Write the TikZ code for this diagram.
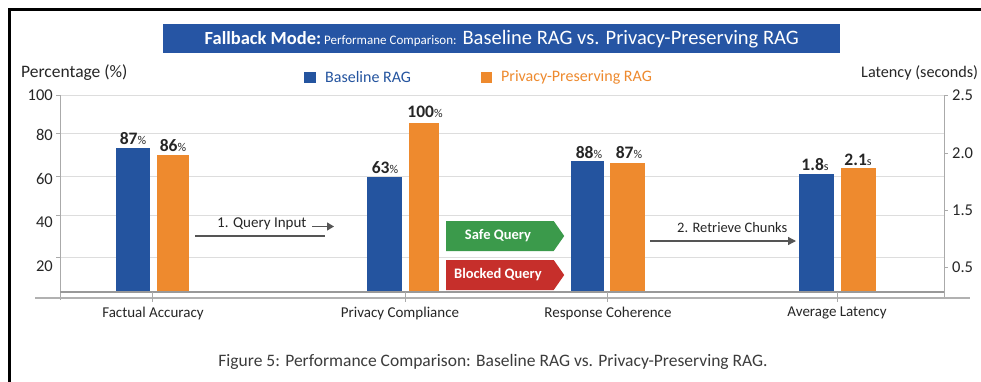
\documentclass[tikz,border=0pt]{standalone}
\usepackage{fontspec}
\setmainfont{Carlito}
\usetikzlibrary{shapes.symbols,arrows.meta}

\definecolor{barblue}{HTML}{24549F}
\definecolor{barorange}{HTML}{EE8A2E}
\definecolor{bannerblue}{HTML}{2655A4}
\definecolor{safegreen}{HTML}{3B9A4B}
\definecolor{blockred}{HTML}{C62F2B}
\definecolor{inkdark}{HTML}{262626}
\definecolor{gridgray}{HTML}{DDDDDD}
\definecolor{axisgray}{HTML}{AAAAAA}
\definecolor{flowgray}{HTML}{555555}

\newcommand\pctlabel[1]{\textbf{#1}{\fontsize{12}{13}\selectfont\%}}
\newcommand\seclabel[1]{\textbf{#1}{\fontsize{12}{13}\selectfont s}}

\tikzset{
  txt/.style={inner sep=0pt, text=inkdark, font=\fontsize{16}{18}\selectfont},
  ticklabel/.style={txt, font=\fontsize{16.5}{18}\selectfont},
  catlabel/.style={txt, font=\fontsize{15}{17}\selectfont},
  vallabel/.style={txt, font=\fontsize{17.5}{19}\selectfont, anchor=base},
  grid line/.style={draw=gridgray, line width=0.8pt},
  axis line/.style={draw=axisgray, line width=1pt},
  bluebar/.style={fill=barblue},
  orangebar/.style={fill=barorange},
  gate/.style={shape=signal, signal to=east, signal pointer angle=110,
    minimum width=118pt, minimum height=30pt, inner sep=0pt, text=white,
    font=\bfseries\fontsize{14.5}{16}\selectfont},
  flow/.style={draw=flowgray, line width=1.3pt},
  flowlabel/.style={txt, font=\fontsize{15}{17}\selectfont, text=inkdark},
}

\begin{document}
\begin{tikzpicture}[x=1pt, y=-1pt]
  \useasboundingbox (0,0) rectangle (981,381);
  \fill[white] (0,0) rectangle (981,381);

  % outer frame
  \draw[line width=3pt, black] (9.5,400) -- (9.5,9.5) -- (1000,9.5);

  % title banner
  \node[fill=bannerblue, minimum width=677pt, minimum height=29pt, inner sep=0pt,
        text=white, anchor=north west] (banner) at (163,24)
    {{\bfseries\fontsize{18.5}{20}\selectfont Fallback Mode:}
     {\fontsize{13}{14}\selectfont Performane Comparison:}\hspace{3pt}
     {\fontsize{20.5}{22}\selectfont Baseline RAG vs. Privacy-Preserving RAG}};

  % axis titles and legend
  \node[txt, anchor=west, font=\fontsize{17.5}{19}\selectfont] (ytitle) at (21,73) {Percentage (\%)};
  \node[txt, anchor=west, font=\fontsize{16.2}{18}\selectfont] (y2title) at (861,73) {Latency (seconds)};
  \node[fill=barblue, minimum size=11.5pt, inner sep=0pt] (keyblue) at (310,77.5) {};
  \node[txt, anchor=west, text=barblue] (keybluetext) at (325,77) {Baseline RAG};
  \node[fill=barorange, minimum size=11.5pt, inner sep=0pt] (keyorange) at (486.5,77.5) {};
  \node[txt, anchor=west, text=barorange] (keyorangetext) at (501,77) {Privacy-Preserving RAG};

  % horizontal grid
  \foreach \gy in {95,133,176,215,257}
    \draw[grid line] (60,\gy) -- (944,\gy);

  % left axis with ticks and labels
  \draw[axis line] (60,95) -- (60,300);
  \foreach \gy/\lab/\ly in {95/100/95, 133/80/135, 176/60/179, 215/40/222, 257/20/266}{
    \draw[axis line] (56,\gy) -- (60,\gy);
    \node[ticklabel, anchor=east] at (53,\ly) {\lab};
  }

  % right axis with ticks and labels
  \draw[axis line] (944,95) -- (944,298);
  \foreach \gy/\lab in {95/2.5, 153/2.0, 210/1.5, 267/0.5}{
    \draw[axis line] (944,\gy) -- (948,\gy);
    \node[ticklabel, anchor=west] at (952,\gy) {\lab};
  }

  % bars
  \fill[bluebar]   (116,148) rectangle (150,292);
  \fill[orangebar] (157,155) rectangle (189,292);
  \fill[bluebar]   (367,177) rectangle (402,292);
  \fill[orangebar] (409,123) rectangle (439,292);
  \fill[bluebar]   (571,161) rectangle (604,292);
  \fill[orangebar] (610,163) rectangle (645,292);
  \fill[bluebar]   (799,174) rectangle (834,292);
  \fill[orangebar] (841,168) rectangle (876,292);

  % baseline and category axis
  \draw[draw=axisgray!90!black, line width=1.2pt] (60,292) -- (944,292);
  \draw[draw=gridgray!80!black, line width=1.2pt] (35,298) -- (970,298);
  \foreach \tx in {152,405,607,837}
    \draw[axis line] (\tx,292) -- (\tx,302);

  % value labels
  \node[vallabel] (v1) at (133,144) {\pctlabel{87}};
  \node[vallabel] (v2) at (173,151) {\pctlabel{86}};
  \node[vallabel] (v3) at (385,173) {\pctlabel{63}};
  \node[vallabel] (v4) at (425,117) {\pctlabel{100}};
  \node[vallabel] (v5) at (589,158) {\pctlabel{88}};
  \node[vallabel] (v6) at (629,158) {\pctlabel{87}};
  \node[vallabel] (v7) at (815,170) {\seclabel{1.8}};
  \node[vallabel] (v8) at (858,165) {\seclabel{2.1}};

  % category labels
  \node[catlabel] (c1) at (153,313) {Factual Accuracy};
  \node[catlabel] (c2) at (400,313) {Privacy Compliance};
  \node[catlabel] (c3) at (608,313) {Response Coherence};
  \node[catlabel] (c4) at (837,313) {Average Latency};

  % query routing gates
  \node[gate, fill=safegreen, anchor=west] (safe) at (446,236) {\hspace{-4pt}Safe Query};
  \node[gate, fill=blockred, anchor=west] (blocked) at (446,275) {\hspace{-4pt}Blocked Query};

  % step 1: query input
  \coordinate (q1) at (195,236);
  \coordinate (q2) at (325,236);
  \draw[flow] (q1) -- (q2);
  \node[flowlabel, anchor=west] (qtext) at (217,224) {1. Query Input};
  \coordinate (qa1) at (312,226.5);
  \coordinate (qa2) at (334,226.5);
  \draw[flow, -{Triangle[length=7pt, width=8pt]}] (qa1) -- (qa2);

  % step 2: retrieve chunks
  \coordinate (r1) at (650,241);
  \coordinate (r2) at (796,241);
  \draw[flow, -{Triangle[length=8pt, width=8pt]}] (r1) -- (r2);
  \node[flowlabel, anchor=west, font=\fontsize{14.5}{16}\selectfont] (rtext) at (677,228) {2. Retrieve Chunks};

  % caption
  \node[txt, font=\fontsize{17.5}{19}\selectfont, text=inkdark!90] (caption) at (493,362)
    {Figure 5: Performance Comparison: Baseline RAG vs. Privacy-Preserving RAG.};
\end{tikzpicture}
\end{document}
